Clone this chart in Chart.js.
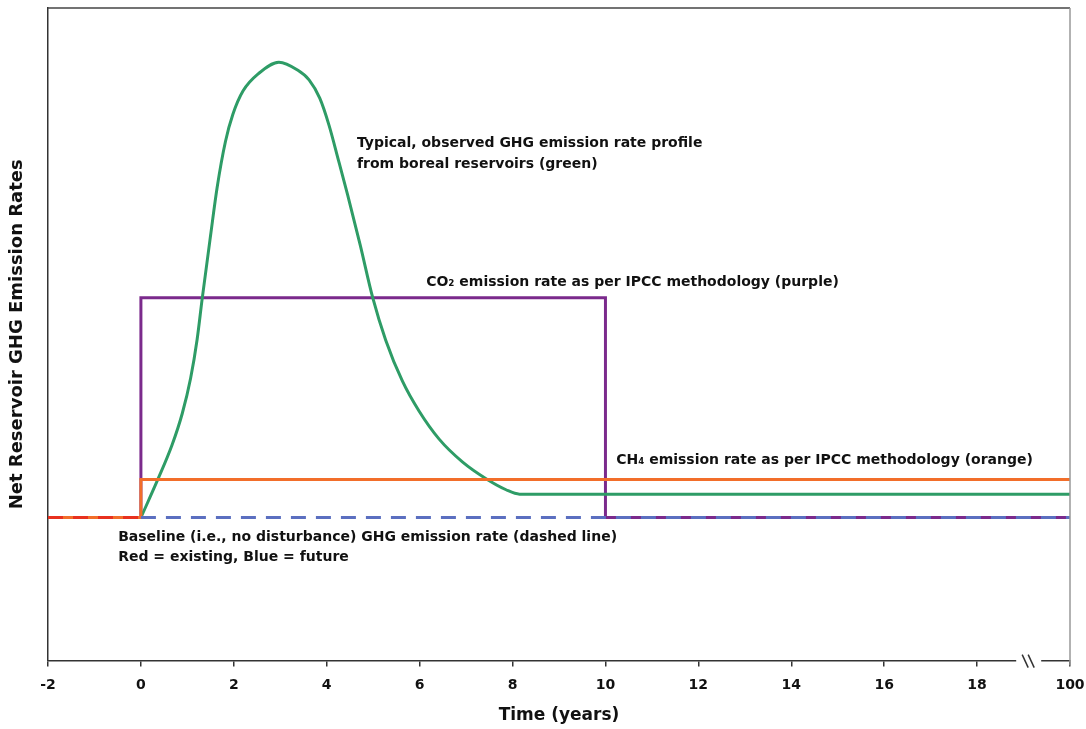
<!DOCTYPE html>
<html>
<head>
<meta charset="utf-8">
<script src="https://cdn.jsdelivr.net/npm/chart.js@4.4.1/dist/chart.umd.min.js"></script>
<style>
  html, body { margin: 0; padding: 0; background: #fff; }
</style>
</head>
<body>
<canvas id="myChart" width="1086" height="729"></canvas>
<script>
// x axis ticks; the last one stands for year 100 after the axis break
const xTicks = [-2, 0, 2, 4, 6, 8, 10, 12, 14, 16, 18, 20];
const xTickLabels = ["-2", "0", "2", "4", "6", "8", "10", "12", "14", "16", "18", "100"];

// typical observed profile, boreal reservoirs (green)
const greenX = [0, 0.35, 0.67, 0.89, 1.07, 1.21, 1.32, 1.5, 1.64, 1.82, 1.98, 2.2, 2.54, 2.97, 3.38, 3.62, 3.85, 4.05, 4.25, 4.45, 4.72, 4.99, 5.27, 5.63, 5.99, 6.42, 6.92, 7.43, 7.86, 8.15, 20];
const greenY = [0, 0.5, 0.99, 1.42, 1.9, 2.43, 2.99, 3.85, 4.5, 5.13, 5.5, 5.82, 6.06, 6.21, 6.1, 5.97, 5.72, 5.35, 4.88, 4.4, 3.72, 3.0, 2.42, 1.86, 1.45, 1.07, 0.76, 0.53, 0.38, 0.32, 0.32];

// CO2 per IPCC (purple)
const purpleX = [0, 0, 10, 10, 20];
const purpleY = [0, 3, 3, 0, 0];

// CH4 per IPCC (orange)
const orangeX = [-2, 0, 0, 20];
const orangeY = [0, 0, 0.52, 0.52];

// baseline: existing (red) and future (blue)
const redX = [-2, 0];
const redY = [0, 0];
const blueX = [0, 20];
const blueY = [0, 0];

const pts = (xs, ys) => xs.map((x, i) => ({ x: x, y: ys[i] }));

const FONT = "'DejaVu Sans', Verdana, sans-serif";

const notes = [
  { text: "Typical, observed GHG emission rate profile", x: 4.65, y: 5.11 },
  { text: "from boreal reservoirs (green)", x: 4.65, y: 4.82 },
  { text: "CO\u2082 emission rate as per IPCC methodology (purple)", x: 6.14, y: 3.21 },
  { text: "CH\u2084 emission rate as per IPCC methodology (orange)", x: 10.23, y: 0.776 },
  { text: "Baseline (i.e., no disturbance) GHG emission rate (dashed line)", x: -0.49, y: -0.274 },
  { text: "Red = existing, Blue = future", x: -0.49, y: -0.547 },
];

const extras = {
  id: "extras",
  afterDraw(chart) {
    const { ctx, chartArea: a, scales } = chart;
    ctx.save();
    // top and right frame
    ctx.lineWidth = 1.5;
    ctx.strokeStyle = "#444";
    ctx.beginPath();
    ctx.moveTo(a.left, a.top);
    ctx.lineTo(a.right, a.top);
    ctx.stroke();
    ctx.strokeStyle = "#999";
    ctx.beginPath();
    ctx.moveTo(a.right, a.top);
    ctx.lineTo(a.right, a.bottom + 5);
    ctx.stroke();

    // axis break
    const bx = scales.x.getPixelForValue(19.1);
    ctx.fillStyle = "#fff";
    ctx.fillRect(bx - 12, a.bottom - 3, 25, 6);
    ctx.strokeStyle = "#333";
    ctx.lineWidth = 1.5;
    [-3, 3].forEach(d => {
      ctx.beginPath();
      ctx.moveTo(bx + d - 3, a.bottom - 6);
      ctx.lineTo(bx + d + 3, a.bottom + 7);
      ctx.stroke();
    });

    // annotations
    ctx.fillStyle = "#111";
    ctx.font = "bold 14px " + FONT;
    ctx.textBaseline = "middle";
    ctx.textAlign = "left";
    notes.forEach(n => {
      ctx.fillText(n.text, scales.x.getPixelForValue(n.x), scales.y.getPixelForValue(n.y));
    });
    ctx.restore();
  },
};

const data = {
  datasets: [
    { data: pts(purpleX, purpleY), borderColor: "#7b2a8c", borderWidth: 3, order: 5 },
    { data: pts(greenX, greenY), borderColor: "#2e9c66", borderWidth: 3, cubicInterpolationMode: "monotone", order: 4 },
    { data: pts(orangeX, orangeY), borderColor: "#f26e2a", borderWidth: 3, order: 3 },
    { data: pts(redX, redY), borderColor: "#e8311f", borderWidth: 3, borderDash: [15, 10], order: 2 },
    { data: pts(blueX, blueY), borderColor: "#5b6fc0", borderWidth: 3, borderDash: [15, 10], order: 1 },
  ],
};

const config = {
  type: "line",
  data: data,
  options: {
    responsive: false,
    animation: false,
    elements: { point: { radius: 0 }, line: { tension: 0 } },
    layout: { padding: { top: 8, right: 16, bottom: 1, left: 4 } },
    plugins: { legend: { display: false }, tooltip: { enabled: false } },
    scales: {
      x: {
        type: "linear",
        min: -2,
        max: 20,
        afterBuildTicks: scale => { scale.ticks = xTicks.map(v => ({ value: v })); },
        afterFit: scale => { scale.paddingRight = 0; scale.paddingLeft = 0; },
        ticks: {
          padding: 10.6,
          color: "#111",
          font: { family: FONT, size: 14, weight: "bold" },
          callback: v => xTickLabels[xTicks.indexOf(v)],
          maxRotation: 0,
        },
        grid: { drawOnChartArea: false, drawTicks: true, tickLength: 6, color: "#333", lineWidth: 1.5 },
        border: { display: true, color: "#333", width: 1.5 },
        title: {
          display: true,
          text: "Time (years)",
          color: "#111",
          font: { family: FONT, size: 17, weight: "bold" },
          padding: { top: 1, bottom: 2 },
        },
      },
      y: {
        type: "linear",
        min: -1.95,
        max: 6.95,
        ticks: { display: false },
        grid: { display: true, drawOnChartArea: false, drawTicks: false },
        border: { display: true, color: "#333", width: 1.5 },
        title: {
          display: true,
          text: "Net Reservoir GHG Emission Rates",
          color: "#111",
          font: { family: FONT, size: 18, weight: "bold" },
          padding: { top: 2.2, bottom: 20.2 },
        },
      },
    },
  },
  plugins: [extras],
};

const ctx = document.getElementById("myChart").getContext("2d");
const chart = new Chart(ctx, config);
</script>
</body>
</html>
